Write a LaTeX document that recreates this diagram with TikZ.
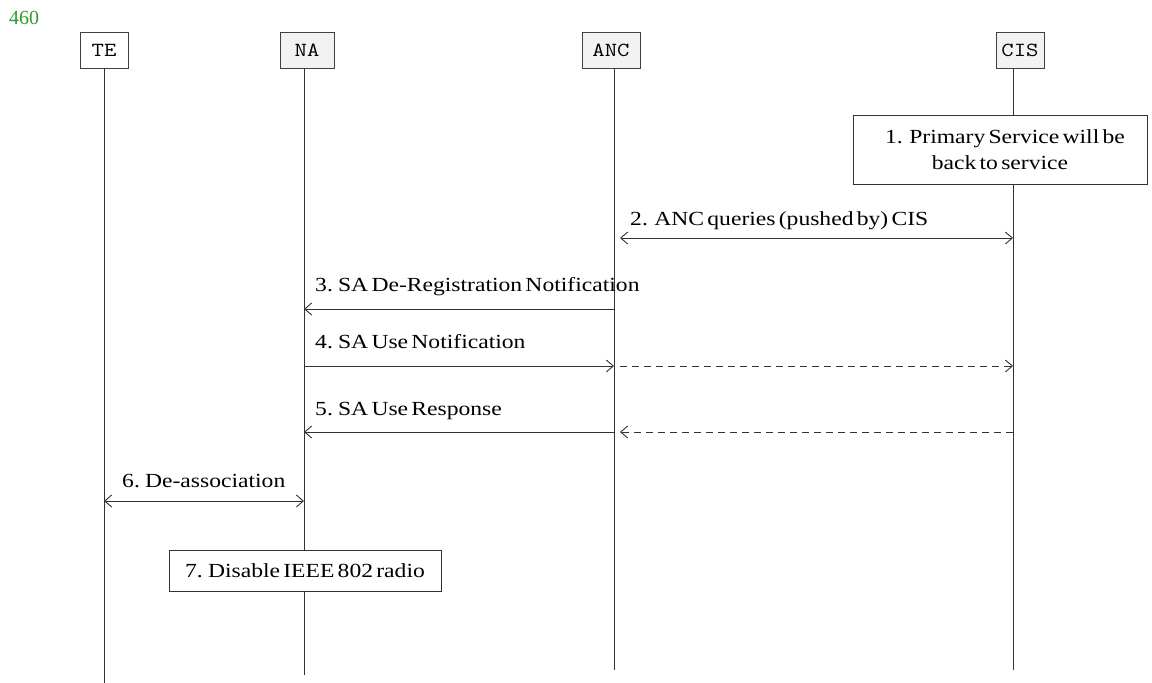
\documentclass[tikz,border=0pt]{standalone}
\usepackage{fontspec}
\setmainfont{Liberation Serif}
\newfontfamily\msgfont[FakeStretch=1.18,WordSpace=0.55]{Liberation Serif}
\newfontfamily\numfont{Liberation Serif}
\newfontfamily\headfont[FakeStretch=1.2]{Latin Modern Mono}
\usetikzlibrary{arrows.meta}
\definecolor{pagenum}{RGB}{45,155,45}
\definecolor{headfill}{RGB}{242,242,242}
\tikzset{
  every picture/.style={x=1pt,y=-1pt},
  head/.style={draw=black!75,line width=0.9pt,minimum width=48pt,minimum height=36pt,
    inner sep=2pt,font=\headfont\fontsize{20}{20}\selectfont},
  lifeline/.style={draw=black!80,line width=0.9pt},
  msg/.style={draw=black!80,line width=0.9pt,-{Straight Barb[length=7pt,width=12pt]}},
  dmsg/.style={msg,dash pattern=on 7pt off 5pt},
  both/.style={draw=black!80,line width=0.9pt,{Straight Barb[length=7pt,width=12pt]}-{Straight Barb[length=7pt,width=12pt]}},
  lbl/.style={font=\msgfont\fontsize{20}{20}\selectfont,inner sep=0pt,anchor=base west},
  actbox/.style={draw=black!80,line width=0.9pt,fill=white,font=\msgfont\fontsize{20}{26}\selectfont,align=center}
}
\begin{document}
\begin{tikzpicture}
\useasboundingbox (0,0) rectangle (1152,683);
\node[text=pagenum,font=\numfont\fontsize{20}{20}\selectfont,anchor=base west,inner sep=0pt] (pnum) at (9,24) {460};

% participants
\node[head,fill=white] (te) at (104,50) {TE};
\node[head,fill=headfill,minimum width=54pt] (na) at (307,50) {NA};
\node[head,fill=headfill,minimum width=58pt] (anc) at (611,50) {ANC};
\node[head,fill=headfill] (cis) at (1020,50) {CIS};

% lifeline ends
\coordinate (teE) at (104,683);
\coordinate (naE) at (304,675);
\coordinate (ancE) at (614,670);
\coordinate (cisE) at (1013,670);
\draw[lifeline] (104,68) -- (teE);
\draw[lifeline] (304,68) -- (naE);
\draw[lifeline] (614,68) -- (ancE);
\draw[lifeline] (1013,68) -- (cisE);

% step 1
\node[actbox,minimum width=294pt,minimum height=69pt] (s1) at (1000,149.5)
  {\hspace*{10pt}1.\ \ Primary Service will be\\ back to service};

% step 2
\coordinate (a2l) at (620,238);
\coordinate (a2r) at (1013,238);
\draw[both] (a2l) -- (a2r);
\node[lbl] (l2) at (630,225) {2.\ \ ANC queries (pushed by) CIS};

% step 3
\coordinate (a3r) at (614,309);
\coordinate (a3l) at (304,309);
\draw[msg] (a3r) -- (a3l);
\node[lbl] (l3) at (315,291) {3. SA De-Registration Notification};

% step 4
\coordinate (a4l) at (304,366);
\coordinate (a4m) at (614,366);
\coordinate (a4d) at (620,366);
\coordinate (a4r) at (1013,366);
\draw[msg] (a4l) -- (a4m);
\draw[dmsg] (a4d) -- (a4r);
\node[lbl] (l4) at (315,348) {4. SA Use Notification};

% step 5
\coordinate (a5r) at (614,432);
\coordinate (a5l) at (304,432);
\coordinate (a5c) at (1013,432);
\coordinate (a5d) at (620,432);
\draw[msg] (a5r) -- (a5l);
\draw[dmsg] (a5c) -- (a5d);
\node[lbl] (l5) at (315,415) {5. SA Use Response};

% step 6
\coordinate (a6l) at (104,501);
\coordinate (a6r) at (304,501);
\draw[both] (a6l) -- (a6r);
\node[lbl] (l6) at (122,487) {6. De-association};

% step 7
\node[actbox,minimum width=272pt,minimum height=41pt] (s7) at (305,570.5) {7. Disable IEEE 802 radio};
\end{tikzpicture}
\end{document}
